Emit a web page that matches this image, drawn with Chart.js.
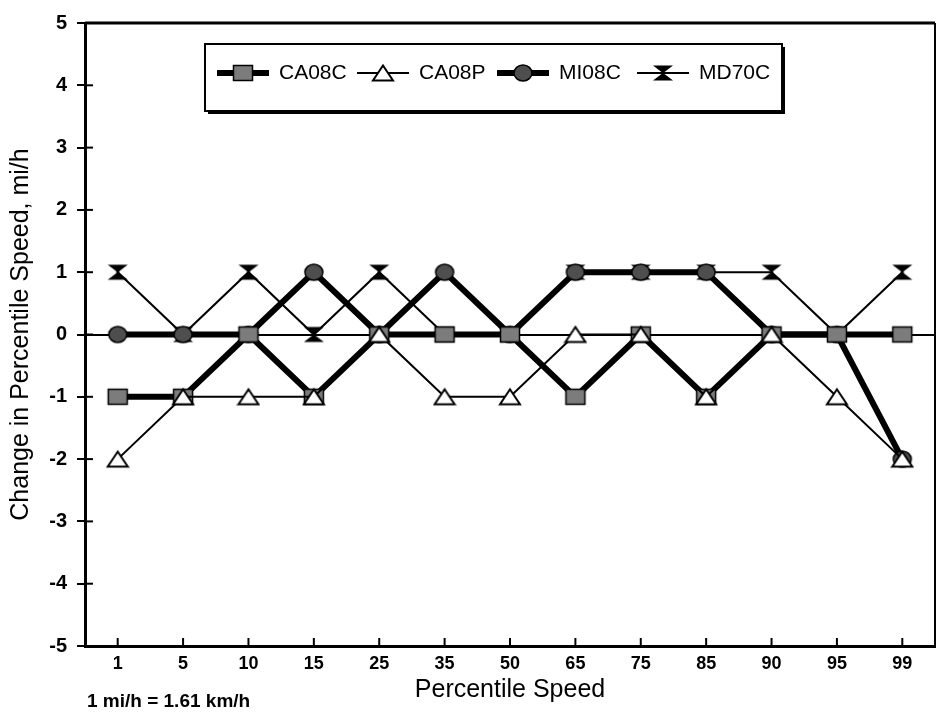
<!DOCTYPE html>
<html><head><meta charset="utf-8">
<script src="https://cdn.jsdelivr.net/npm/chart.js@4/dist/chart.umd.min.js"></script>
<style>html,body{margin:0;padding:0;background:#fff;}#wrap{width:936px;height:713px;position:relative;}</style>
</head><body><div id="wrap"><canvas id="c" width="936" height="713"></canvas></div>
<script>
const categories = ['1','5','10','15','25','35','50','65','75','85','90','95','99'];
const CA08C = [-1,-1,0,-1,0,0,0,-1,0,-1,0,0,0];
const CA08P = [-2,-1,-1,-1,0,-1,-1,0,0,-1,0,-1,-2];
const MI08C = [0,0,0,1,0,1,0,1,1,1,0,0,-2];
const MD70C = [1,0,1,0,1,0,0,1,1,1,1,0,1];
const seriesNames = ['CA08C','CA08P','MI08C','MD70C'];
const yMin = -5, yMax = 5, yStep = 1;
const xTitle = 'Percentile Speed';
const yTitle = 'Change in Percentile Speed, mi/h';
const noteText = '1 mi/h = 1.61 km/h';

function makeMarker(kind){
  const w = 20, h = 16, pad = 2;
  const c = document.createElement('canvas');
  c.width = w + pad*2; c.height = h + pad*2;
  const g = c.getContext('2d');
  g.translate(c.width/2, c.height/2);
  g.strokeStyle = '#000'; g.lineWidth = 1.5;
  if (kind === 'square'){
    g.fillStyle = '#7c7c7c';
    g.fillRect(-9.5,-7.5,19,15); g.strokeRect(-9.5,-7.5,19,15);
  } else if (kind === 'circle'){
    g.fillStyle = '#4e4e4e';
    g.beginPath(); g.ellipse(0,0,9,8,0,0,Math.PI*2); g.fill(); g.stroke();
  } else if (kind === 'triangle'){
    g.fillStyle = '#fff'; g.lineWidth = 2;
    g.beginPath(); g.moveTo(0,-7.5); g.lineTo(10,7.5); g.lineTo(-10,7.5); g.closePath(); g.fill(); g.stroke();
  } else if (kind === 'bowtie'){
    g.fillStyle = '#000';
    g.beginPath(); g.moveTo(-10,-7.5); g.lineTo(10,-7.5); g.lineTo(1.5,-1); g.lineTo(1.5,1); g.lineTo(10,7.5); g.lineTo(-10,7.5); g.lineTo(-1.5,1); g.lineTo(-1.5,-1); g.closePath(); g.fill();
  }
  return c;
}
const markers = {square: makeMarker('square'), triangle: makeMarker('triangle'), circle: makeMarker('circle'), bowtie: makeMarker('bowtie')};

const FONT = "'Liberation Sans', Arial, sans-serif";

const framePlugin = {
  id: 'frame',
  beforeDatasetsDraw(chart){
    const {ctx, chartArea: a, scales} = chart;
    ctx.save();
    ctx.strokeStyle = '#000';
    ctx.lineWidth = 3;
    ctx.beginPath(); ctx.moveTo(a.left, a.top); ctx.lineTo(a.right, a.top); ctx.stroke();
    ctx.lineWidth = 2;
    ctx.beginPath(); ctx.moveTo(a.right, a.top); ctx.lineTo(a.right, a.bottom); ctx.stroke();
    ctx.lineWidth = 2;
    scales.y.ticks.forEach((t,i)=>{
      const y = scales.y.getPixelForTick(i);
      ctx.beginPath(); ctx.moveTo(a.left, y); ctx.lineTo(a.left+8, y); ctx.stroke();
    });
    scales.x.ticks.forEach((t,i)=>{
      const x = scales.x.getPixelForTick(i);
      ctx.beginPath(); ctx.moveTo(x, a.bottom); ctx.lineTo(x, a.bottom-8); ctx.stroke();
    });
    ctx.restore();
  },
  afterDraw(chart){
    const {ctx, chartArea: a} = chart;
    ctx.save();
    ctx.fillStyle = '#000';
    ctx.font = "bold 19px " + FONT;
    ctx.textAlign = 'left'; ctx.textBaseline = 'middle';
    ctx.fillText(noteText, a.left + 2, 702);
    const bx = a.left + 120, by = a.top + 21, bw = 577, bh = 67;
    ctx.fillStyle = '#000';
    ctx.fillRect(bx + 3, by + 3, bw, bh);
    ctx.fillStyle = '#fff';
    ctx.fillRect(bx, by, bw, bh);
    ctx.strokeStyle = '#000'; ctx.lineWidth = 2;
    ctx.strokeRect(bx, by, bw, bh);
    const ly = by + 29;
    seriesNames.forEach((name, i) => {
      const ds = chart.data.datasets.find(d => d.label === name);
      const ix = bx + 12 + i*140;
      ctx.strokeStyle = '#000'; ctx.lineWidth = ds.borderWidth;
      ctx.beginPath(); ctx.moveTo(ix, ly); ctx.lineTo(ix+52, ly); ctx.stroke();
      const m = ds.pointStyle;
      ctx.drawImage(m, ix + 26 - m.width/2, ly - m.height/2);
      ctx.fillStyle = '#000';
      ctx.font = "21px " + FONT;
      ctx.textAlign = 'left'; ctx.textBaseline = 'middle';
      ctx.fillText(name, ix + 62, ly);
    });
    ctx.restore();
  }
};

const mk = (label, data, width, style, order) => ({
  label, data, order,
  borderColor: '#000', backgroundColor: '#000', borderWidth: width,
  pointStyle: style, pointRadius: 9, pointHoverRadius: 9,
  tension: 0, fill: false
});

new Chart(document.getElementById('c'), {
  type: 'line',
  data: {
    labels: categories,
    datasets: [
      mk(seriesNames[0], CA08C, 6, markers.square, 1),
      mk(seriesNames[1], CA08P, 2, markers.triangle, 0),
      mk(seriesNames[2], MI08C, 6, markers.circle, 2),
      mk(seriesNames[3], MD70C, 2, markers.bowtie, 3)
    ]
  },
  options: {
    responsive: false, animation: false,
    layout: { autoPadding: false, padding: { top: 23, right: 1, left: 0, bottom: 0 } },
    plugins: { legend: { display: false }, tooltip: { enabled: false } },
    scales: {
      x: {
        offset: true,
        grid: { display: true, drawOnChartArea: false, drawTicks: false },
        border: { color: '#000', width: 3 },
        ticks: { color: '#000', font: { family: FONT, size: 18, weight: 'bold' }, padding: 7, maxRotation: 0, autoSkip: false },
        title: { display: true, text: xTitle, color: '#000', font: { family: FONT, size: 25 }, padding: { top: 0, bottom: 8 } },
        afterFit: s => { s.height = 67; s.paddingLeft = 0; s.paddingRight = 0; }
      },
      y: {
        min: yMin, max: yMax,
        ticks: { stepSize: yStep, color: '#000', font: { family: FONT, size: 20, weight: 'bold' }, padding: 10 },
        grid: {
          color: c => (c.tick && c.tick.value === 0) ? '#000' : 'rgba(0,0,0,0)',
          lineWidth: 2, tickColor: '#000', tickLength: 8, tickWidth: 2
        },
        border: { color: '#000', width: 3 },
        title: { display: true, text: yTitle, color: '#000', font: { family: FONT, size: 25 }, padding: { top: 6, bottom: 0 } },
        afterFit: s => { s.width = 85; s.paddingTop = 0; s.paddingBottom = 0; }
      }
    }
  },
  plugins: [framePlugin]
});
</script>
</body></html>
